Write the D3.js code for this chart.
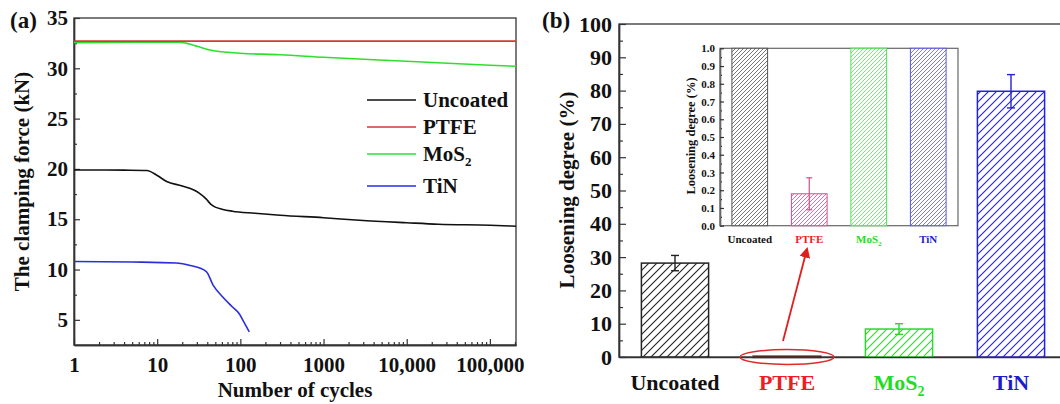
<!DOCTYPE html>
<html><head><meta charset="utf-8">
<script src="https://cdn.jsdelivr.net/npm/d3@7"></script>
<style>
body{margin:0;background:#fff}
svg text{font-family:"Liberation Serif","Times New Roman",serif;font-weight:bold}
</style>
</head><body>
<svg id="c" width="1060" height="404"></svg>
<script>
// ---------- DATA ----------
// Panel (a): clamping force vs number of cycles
const uncoatedCycles = [1, 2, 4, 7.5, 10, 13, 20, 32, 39, 44, 50, 60, 80, 150, 300, 1000, 2700, 10000, 24000, 100000, 206000];
const uncoatedForce  = [19.9, 19.9, 19.88, 19.85, 19.35, 18.75, 18.3, 17.6, 17.0, 16.5, 16.2, 16.0, 15.8, 15.6, 15.4, 15.15, 14.9, 14.65, 14.5, 14.4, 14.3];
const ptfeCycles = [1, 206000];
const ptfeForce  = [32.7, 32.7];
const mos2Cycles = [1, 10, 18, 22, 26, 30, 36, 42, 50, 70, 100, 300, 1000, 10000, 100000, 206000];
const mos2Force  = [32.55, 32.6, 32.6, 32.5, 32.35, 32.2, 32.0, 31.85, 31.72, 31.6, 31.5, 31.35, 31.1, 30.7, 30.3, 30.2];
const tinCycles = [1, 5, 17, 25, 39, 47, 61, 80, 97, 110, 128];
const tinForce  = [10.8, 10.75, 10.65, 10.4, 9.8, 8.45, 7.3, 6.3, 5.6, 4.8, 3.8];
const seriesNames = ["Uncoated", "PTFE", "MoS2", "TiN"];
const xTickValues = [1, 10, 100, 1000, 10000, 100000];
const xTickLabels = ["1", "10", "100", "1000", "10,000", "100,000"];
const yTickValuesA = [5, 10, 15, 20, 25, 30, 35];

// Panel (b): loosening degree
const categories = ["Uncoated", "PTFE", "MoS2", "TiN"];
const loosening = [28.2, 0.18, 8.4, 79.8];
const looseningErr = [2.3, 0.09, 1.6, 5.0];
const yTickValuesB = [0, 10, 20, 30, 40, 50, 60, 70, 80, 90, 100];
const insetTickValues = [0, 0.1, 0.2, 0.3, 0.4, 0.5, 0.6, 0.7, 0.8, 0.9, 1.0];

// ---------- STYLES ----------
const lineColors = ["#111111", "#d23a32", "#2ee02e", "#2a2ee0"];
const barColors = ["#222222", "#5a2a1a", "#2ed62e", "#2323d0"];
const insetColors = ["#555555", "#d0508a", "#55e055", "#5a5ad8"];
const labelColors = ["#111111", "#ee1c24", "#22dd22", "#1c1ccc"];

const svg = d3.select("#c");
const defs = svg.append("defs");
function hatch(id, color, w, sw) {
  const p = defs.append("pattern").attr("id", id).attr("patternUnits", "userSpaceOnUse")
    .attr("width", w).attr("height", w);
  p.append("rect").attr("width", w).attr("height", w).attr("fill", "#fff");
  p.append("path").attr("d", `M-1,1 l2,-2 M0,${w} l${w},${-w} M${w-1},${w+1} l2,-2`)
    .attr("stroke", color).attr("stroke-width", sw);
}
categories.forEach((c, i) => {
  hatch("hm" + i, barColors[i], 8, 1.1);
  hatch("hi" + i, insetColors[i], 4, 0.8);
});

function styleAxis(g, fs) {
  g.select(".domain").attr("stroke", "#333").attr("stroke-width", 1.4);
  g.selectAll(".tick line").attr("stroke", "#333").attr("stroke-width", 1.2);
  g.selectAll(".tick text").attr("font-size", fs).attr("fill", "#111");
}

// ---------- PANEL A ----------
const ax = d3.scaleLog().domain([1, 2.06e5]).range([74, 516]);
const ay = d3.scaleLinear().domain([2.5, 35]).range([345, 18]);

svg.append("rect").attr("x", 74).attr("y", 18).attr("width", 516 - 74).attr("height", 345 - 18)
  .attr("fill", "none").attr("stroke", "#444").attr("stroke-width", 1.4);

const minorX = [];
xTickValues.forEach(d => { for (let k = 2; k <= 9; k++) if (d * k <= 2.06e5) minorX.push(d * k); });
svg.append("g").attr("transform", "translate(0,345)")
  .call(d3.axisBottom(ax).tickValues(minorX).tickFormat("").tickSizeInner(-3).tickSizeOuter(0))
  .call(g => styleAxis(g, 0));
svg.append("g").attr("transform", "translate(0,345)")
  .call(d3.axisBottom(ax).tickValues(xTickValues).tickFormat((d, i) => xTickLabels[i]).tickSizeInner(-6).tickSizeOuter(0).tickPadding(12))
  .call(g => styleAxis(g, 21));

const minorYA = yTickValuesA.map(v => v - 2.5).filter(v => v > 2.5);
svg.append("g").attr("transform", "translate(74,0)")
  .call(d3.axisLeft(ay).tickValues(minorYA).tickFormat("").tickSizeInner(-3).tickSizeOuter(0))
  .call(g => styleAxis(g, 0));
svg.append("g").attr("transform", "translate(74,0)")
  .call(d3.axisLeft(ay).tickValues(yTickValuesA).tickSizeInner(-6).tickSizeOuter(0).tickPadding(6))
  .call(g => styleAxis(g, 21));

const line = d3.line().curve(d3.curveMonotoneX).x(d => ax(d[0])).y(d => ay(d[1]));
const seriesData = [
  d3.zip(uncoatedCycles, uncoatedForce),
  d3.zip(ptfeCycles, ptfeForce),
  d3.zip(mos2Cycles, mos2Force),
  d3.zip(tinCycles, tinForce)
];
[2, 1, 0, 3].forEach(i => {
  svg.append("path").datum(seriesData[i]).attr("d", line)
    .attr("fill", "none").attr("stroke", lineColors[i]).attr("stroke-width", 1.6);
});

// legend
const legY = [100, 127, 154, 186];
seriesNames.forEach((n, i) => {
  svg.append("line").attr("x1", 367).attr("x2", 416).attr("y1", legY[i]).attr("y2", legY[i])
    .attr("stroke", lineColors[i]).attr("stroke-width", 1.6);
  const t = svg.append("text").attr("x", 423).attr("y", legY[i] + 7).attr("font-size", 21).attr("fill", "#111");
  if (n === "MoS2") {
    t.append("tspan").text("MoS");
    t.append("tspan").text("2").attr("font-size", 13).attr("dy", 5);
  } else t.text(n);
});

svg.append("text").attr("x", 10).attr("y", 28).attr("font-size", 23).attr("fill", "#111").text("(a)");
svg.append("text").attr("transform", "translate(29,181.5) rotate(-90)").attr("text-anchor", "middle")
  .attr("font-size", 21).attr("fill", "#111").text("The clamping force (kN)");
svg.append("text").attr("x", 295).attr("y", 397).attr("text-anchor", "middle")
  .attr("font-size", 21).attr("fill", "#111").text("Number of cycles");

// ---------- PANEL B ----------
const bx = d3.scaleBand().domain(categories).range([619, 1067]).paddingInner(0.4).paddingOuter(0.2);
const by = d3.scaleLinear().domain([0, 100]).range([357, 24]);

svg.append("rect").attr("x", 619).attr("y", 24).attr("width", 1067 - 619).attr("height", 357 - 24)
  .attr("fill", "none").attr("stroke", "#444").attr("stroke-width", 1.4);

// bars
categories.forEach((c, i) => {
  const v = loosening[i];
  svg.append("rect").attr("x", bx(c)).attr("width", bx.bandwidth())
    .attr("y", by(v)).attr("height", Math.max(by(0) - by(v), 0.8))
    .attr("fill", `url(#hm${i})`).attr("stroke", barColors[i]).attr("stroke-width", i === 1 ? 2 : 1.5);
  if (i !== 1) {
    const cx = bx(c) + bx.bandwidth() / 2;
    const e = svg.append("g").attr("stroke", barColors[i]).attr("stroke-width", 1.4);
    e.append("line").attr("x1", cx).attr("x2", cx).attr("y1", by(v + looseningErr[i])).attr("y2", by(v - looseningErr[i]));
    e.append("line").attr("x1", cx - 4).attr("x2", cx + 4).attr("y1", by(v + looseningErr[i])).attr("y2", by(v + looseningErr[i]));
    e.append("line").attr("x1", cx - 4).attr("x2", cx + 4).attr("y1", by(v - looseningErr[i])).attr("y2", by(v - looseningErr[i]));
  }
});

const minorYB = yTickValuesB.slice(1).map(v => v - 5);
svg.append("g").attr("transform", "translate(619,0)")
  .call(d3.axisLeft(by).tickValues(minorYB).tickFormat("").tickSizeInner(-4).tickSizeOuter(0))
  .call(g => styleAxis(g, 0));
svg.append("g").attr("transform", "translate(619,0)")
  .call(d3.axisLeft(by).tickValues(yTickValuesB).tickSizeInner(-7).tickSizeOuter(0).tickPadding(7))
  .call(g => styleAxis(g, 22));
svg.append("g").attr("transform", "translate(0,357)")
  .call(d3.axisBottom(bx).tickSize(0).tickFormat(""))
  .call(g => styleAxis(g, 0));

// category labels
categories.forEach((c, i) => {
  const t = svg.append("text").attr("x", bx(c) + bx.bandwidth() / 2).attr("y", 390)
    .attr("text-anchor", "middle").attr("font-size", 22).attr("fill", labelColors[i]);
  if (c === "MoS2") {
    t.append("tspan").text("MoS");
    t.append("tspan").text("2").attr("font-size", 14).attr("dy", 6);
  } else t.text(c);
});

svg.append("text").attr("x", 542).attr("y", 28).attr("font-size", 23).attr("fill", "#111").text("(b)");
svg.append("text").attr("transform", "translate(574,190) rotate(-90)").attr("text-anchor", "middle")
  .attr("font-size", 21).attr("fill", "#111").text("Loosening degree (%)");

// ellipse + arrow
const pCx = bx("PTFE") + bx.bandwidth() / 2;
svg.append("ellipse").attr("cx", pCx).attr("cy", by(0)).attr("rx", 47).attr("ry", 7.5)
  .attr("fill", "none").attr("stroke", "#e02a2a").attr("stroke-width", 1.5);
defs.append("marker").attr("id", "arr").attr("viewBox", "0 0 10 10").attr("refX", 8).attr("refY", 5)
  .attr("markerWidth", 6).attr("markerHeight", 6).attr("orient", "auto")
  .append("path").attr("d", "M0,0 L10,5 L0,10 z").attr("fill", "#e01e1e");
svg.append("line").attr("x1", 783).attr("y1", 341).attr("x2", 807).attr("y2", 249)
  .attr("stroke", "#e01e1e").attr("stroke-width", 1.8).attr("marker-end", "url(#arr)");

// ---------- INSET ----------
const ix = d3.scaleBand().domain(categories).range([720, 958]).paddingInner(0.4).paddingOuter(0.2);
const iy = d3.scaleLinear().domain([0, 1]).range([225.7, 48.3]).clamp(true);
svg.append("rect").attr("x", 720).attr("y", 48.3).attr("width", 958 - 720).attr("height", 225.7 - 48.3)
  .attr("fill", "#fff").attr("stroke", "#666").attr("stroke-width", 1.2);
categories.forEach((c, i) => {
  const v = loosening[i];
  svg.append("rect").attr("x", ix(c)).attr("width", ix.bandwidth())
    .attr("y", iy(v)).attr("height", iy(0) - iy(v))
    .attr("fill", `url(#hi${i})`).attr("stroke", insetColors[i]).attr("stroke-width", 1);
  if (v + looseningErr[i] <= 1) {
    const cx = ix(c) + ix.bandwidth() / 2;
    const e = svg.append("g").attr("stroke", insetColors[i]).attr("stroke-width", 1.2);
    e.append("line").attr("x1", cx).attr("x2", cx).attr("y1", iy(v + looseningErr[i])).attr("y2", iy(v - looseningErr[i]));
    e.append("line").attr("x1", cx - 3).attr("x2", cx + 3).attr("y1", iy(v + looseningErr[i])).attr("y2", iy(v + looseningErr[i]));
    e.append("line").attr("x1", cx - 3).attr("x2", cx + 3).attr("y1", iy(v - looseningErr[i])).attr("y2", iy(v - looseningErr[i]));
  }
});
const minorI = insetTickValues.slice(1).map(v => v - 0.05);
svg.append("g").attr("transform", "translate(720,0)")
  .call(d3.axisLeft(iy).tickValues(minorI).tickFormat("").tickSizeInner(-2).tickSizeOuter(0))
  .call(g => styleAxis(g, 0));
svg.append("g").attr("transform", "translate(720,0)")
  .call(d3.axisLeft(iy).tickValues(insetTickValues).tickFormat(d3.format(".1f")).tickSizeInner(-4).tickSizeOuter(0).tickPadding(5))
  .call(g => { styleAxis(g, 11); g.select(".domain").attr("stroke", "#666").attr("stroke-width", 1.2); });
categories.forEach((c, i) => {
  const t = svg.append("text").attr("x", ix(c) + ix.bandwidth() / 2).attr("y", 243)
    .attr("text-anchor", "middle").attr("font-size", 11).attr("fill", labelColors[i]);
  if (c === "MoS2") {
    t.append("tspan").text("MoS");
    t.append("tspan").text("2").attr("font-size", 7).attr("dy", 3);
  } else t.text(c);
});
svg.append("text").attr("transform", "translate(695,136) rotate(-90)").attr("text-anchor", "middle")
  .attr("font-size", 12.5).attr("fill", "#111").text("Loosening degree (%)");
</script>
</body></html>
